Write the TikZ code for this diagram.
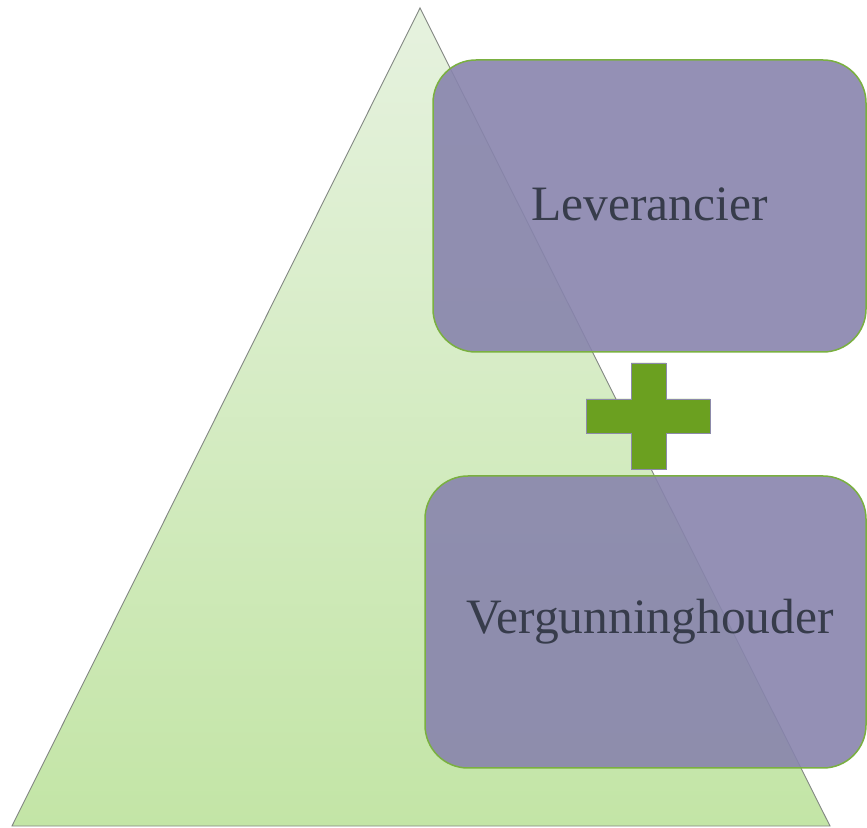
\documentclass[tikz,border=0pt]{standalone}
\usepackage{fontspec}
\setmainfont{Liberation Serif}
\definecolor{trtop}{RGB}{230,242,223}
\definecolor{trbot}{RGB}{195,229,166}
\definecolor{trline}{RGB}{130,135,130}
\definecolor{boxfill}{RGB}{136,132,173}
\definecolor{boxline}{RGB}{122,176,64}
\definecolor{plusfill}{RGB}{107,160,32}
\definecolor{plusline}{RGB}{140,138,170}
\definecolor{txt}{RGB}{55,60,75}
\tikzset{
  roundbox/.style={draw=boxline, line width=1.5pt, fill=boxfill, fill opacity=0.9,
    text opacity=1, rounded corners=43pt, minimum height=292pt, inner sep=0pt,
    text=txt, font=\fontsize{49.5}{58}\selectfont}
}
\begin{document}
\begin{tikzpicture}[x=1pt,y=1pt]
\useasboundingbox (0,0) rectangle (867,827);
\coordinate (apex) at (420,819);
\coordinate (bl) at (12,1);
\coordinate (br) at (830,1);
\shade[top color=trtop, bottom color=trbot] (apex) -- (br) -- (bl) -- cycle;
\draw[trline, line width=0.9pt] (apex) -- (br) -- (bl) -- cycle;
\node[roundbox, minimum width=433pt] (lev) at (649.5,621) {\raisebox{3pt}{Leverancier}};
\node[roundbox, minimum width=441pt] (verg) at (645.5,205) {\hspace{9pt}Vergunninghouder};
\draw[plusline, line width=0.8pt, fill=plusfill]
  (631,464) -- (666,464) -- (666,428) -- (710,428) -- (710,394) -- (666,394)
  -- (666,358) -- (631,358) -- (631,394) -- (586,394) -- (586,428) -- (631,428) -- cycle;
\end{tikzpicture}
\end{document}
